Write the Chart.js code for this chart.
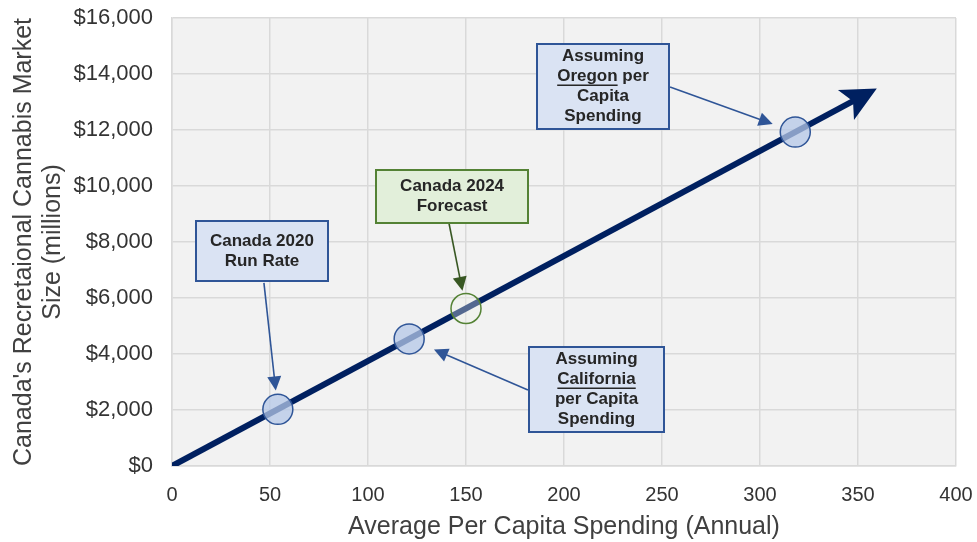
<!DOCTYPE html>
<html>
<head>
<meta charset="utf-8">
<script src="https://cdn.jsdelivr.net/npm/chart.js@4/dist/chart.umd.min.js"></script>
<style>
  html, body { margin: 0; padding: 0; background: #ffffff; }
  #wrap { width: 977px; height: 542px; }
</style>
</head>
<body>
<div id="wrap"><canvas id="c" width="977" height="542"></canvas></div>
<script>
// Market size = per-capita spending x Canadian population (~37.5M)
const trendX = [0, 356];
const trendY = [0, 13350];

// Highlighted scenarios
const pointNames = ['Canada 2020 Run Rate', 'California', 'Canada 2024 Forecast', 'Oregon'];
const pointX = [54, 121, 150, 318];
const pointY = [2025, 4540, 5625, 11925];

// Callout text, one entry per highlighted scenario (_word_ = underlined)
const calloutText = [
  ['Canada 2020', 'Run Rate'],
  ['Assuming', '_California_', 'per Capita', 'Spending'],
  ['Canada 2024', 'Forecast'],
  ['Assuming', '_Oregon_ per', 'Capita', 'Spending']
];

const xTicks = [0, 50, 100, 150, 200, 250, 300, 350, 400];
const yTicks = [0, 2000, 4000, 6000, 8000, 10000, 12000, 14000, 16000];

const xTitle = 'Average Per Capita Spending (Annual)';
const yTitle = ["Canada's Recretaional Cannabis Market", 'Size (millions)'];

const FONT = "'Liberation Sans', Arial, sans-serif";
const BLUE = { fill: '#dae3f3', stroke: '#2f5597', arrow: '#2f5597' };
const GREEN = { fill: '#e2efda', stroke: '#548235', arrow: '#385723' };

// Callout layout: box centre (data units), box size (px), arrow start (data units)
const calloutLayout = [
  { bx: 45.9, by: 7679, w: 132, h: 60, fx: 46.9, fy: 6540, gap: 19, c: BLUE },
  { bx: 216.6, by: 2732, w: 135, h: 85, fx: 181.6, fy: 2714, gap: 27, c: BLUE },
  { bx: 142.9, by: 9625, w: 152, h: 53, fx: 141.3, fy: 8679, gap: 18, c: GREEN },
  { bx: 219.9, by: 13554, w: 132, h: 85, fx: 254.1, fy: 13536, gap: 24, c: BLUE }
];

const plotBackground = {
  id: 'plotBackground',
  beforeDraw(chart) {
    const { ctx, chartArea: a } = chart;
    ctx.save();
    ctx.fillStyle = '#f2f2f2';
    ctx.fillRect(a.left, a.top, a.right - a.left, a.bottom - a.top);
    ctx.restore();
  }
};

// Arrowhead at the end of the trend line
const trendArrow = {
  id: 'trendArrow',
  afterDatasetsDraw(chart) {
    const meta = chart.getDatasetMeta(1);
    const p0 = meta.data[0], p1 = meta.data[meta.data.length - 1];
    const dx = p1.x - p0.x, dy = p1.y - p0.y, len = Math.hypot(dx, dy);
    const ux = dx / len, uy = dy / len, nx = -uy, ny = ux;
    const tx = p1.x + ux * 8, ty = p1.y + uy * 8;
    const L = 35, W = 17, N = 27;
    const { ctx } = chart;
    ctx.save();
    ctx.fillStyle = '#002060';
    ctx.beginPath();
    ctx.moveTo(tx, ty);
    ctx.lineTo(tx - ux * L + nx * W, ty - uy * L + ny * W);
    ctx.lineTo(tx - ux * N, ty - uy * N);
    ctx.lineTo(tx - ux * L - nx * W, ty - uy * L - ny * W);
    ctx.closePath();
    ctx.fill();
    ctx.restore();
  }
};

const callouts = {
  id: 'callouts',
  afterDatasetsDraw(chart) {
    const { ctx, scales: { x, y } } = chart;
    const pts = chart.getDatasetMeta(0).data;
    ctx.save();
    calloutLayout.forEach((c, i) => {
      const pt = pts[i];
      const sx = x.getPixelForValue(c.fx), sy = y.getPixelForValue(c.fy);
      const dx = pt.x - sx, dy = pt.y - sy, len = Math.hypot(dx, dy);
      const ux = dx / len, uy = dy / len, nx = -uy, ny = ux;
      const tx = pt.x - ux * c.gap, ty = pt.y - uy * c.gap;
      const hl = 14, hw = 7;
      ctx.strokeStyle = c.c.arrow;
      ctx.lineWidth = 1.6;
      ctx.beginPath();
      ctx.moveTo(sx, sy);
      ctx.lineTo(tx - ux * (hl - 2), ty - uy * (hl - 2));
      ctx.stroke();
      ctx.fillStyle = c.c.arrow;
      ctx.beginPath();
      ctx.moveTo(tx, ty);
      ctx.lineTo(tx - ux * hl + nx * hw, ty - uy * hl + ny * hw);
      ctx.lineTo(tx - ux * hl - nx * hw, ty - uy * hl - ny * hw);
      ctx.closePath();
      ctx.fill();

      const cx = x.getPixelForValue(c.bx), cy = y.getPixelForValue(c.by);
      const l = Math.round(cx - c.w / 2), t = Math.round(cy - c.h / 2);
      ctx.fillStyle = c.c.fill;
      ctx.fillRect(l, t, c.w, c.h);
      ctx.strokeStyle = c.c.stroke;
      ctx.lineWidth = 2;
      ctx.strokeRect(l, t, c.w, c.h);

      const lines = calloutText[i];
      const lh = 20;
      ctx.font = 'bold 17px ' + FONT;
      ctx.fillStyle = '#262626';
      ctx.textBaseline = 'middle';
      ctx.textAlign = 'left';
      lines.forEach((line, k) => {
        const segs = line.split(/(_[^_]+_)/).filter(s => s.length).map(s =>
          s.startsWith('_') ? { t: s.slice(1, -1), u: true } : { t: s, u: false });
        const total = segs.reduce((s, g) => s + ctx.measureText(g.t).width, 0);
        let xx = cx - total / 2;
        const yy = cy + (k - (lines.length - 1) / 2) * lh;
        segs.forEach(g => {
          const w = ctx.measureText(g.t).width;
          ctx.fillText(g.t, xx, yy);
          if (g.u) {
            ctx.fillRect(xx, yy + 8, w, 1.5);
          }
          xx += w;
        });
      });
    });
    ctx.restore();
  }
};

new Chart(document.getElementById('c'), {
  data: {
    datasets: [
      {
        type: 'scatter',
        label: 'Scenarios',
        order: 1,
        data: pointX.map((v, i) => ({ x: v, y: pointY[i] })),
        pointRadius: 15,
        pointHoverRadius: 15,
        pointBorderWidth: 1.5,
        pointBackgroundColor: ['rgba(180,199,231,0.75)', 'rgba(180,199,231,0.75)', 'rgba(240,244,236,0.35)', 'rgba(180,199,231,0.75)'],
        pointBorderColor: ['#2f5597', '#2f5597', '#548235', '#2f5597']
      },
      {
        type: 'line',
        label: 'Market size',
        order: 2,
        data: trendX.map((v, i) => ({ x: v, y: trendY[i] })),
        borderColor: '#002060',
        borderWidth: 6,
        pointRadius: 0,
        fill: false,
        tension: 0
      }
    ]
  },
  options: {
    responsive: false,
    devicePixelRatio: 1,
    animation: false,
    layout: { autoPadding: false, padding: { left: 0, right: 21, top: 18, bottom: 0 } },
    plugins: { legend: { display: false }, tooltip: { enabled: false } },
    scales: {
      x: {
        type: 'linear',
        min: 0, max: 400,
        afterBuildTicks: s => { s.ticks = xTicks.map(v => ({ value: v })); },
        afterFit: s => { s.height = 76; s.paddingLeft = 0; s.paddingRight = 0; },
        grid: { color: '#d9d9d9', lineWidth: 1.5, drawTicks: false },
        border: { color: '#d9d9d9', width: 1.5 },
        ticks: { color: '#333333', font: { family: FONT, size: 20 }, padding: 17, maxRotation: 0 },
        title: { display: true, text: xTitle, color: '#404040', font: { family: FONT, size: 25 }, padding: { top: 4, bottom: 0 } }
      },
      y: {
        type: 'linear',
        min: 0, max: 16000,
        afterBuildTicks: s => { s.ticks = yTicks.map(v => ({ value: v })); },
        afterFit: s => { s.width = 172; s.paddingTop = 0; s.paddingBottom = 0; },
        grid: { color: '#d9d9d9', lineWidth: 1.5, drawTicks: false },
        border: { color: '#d9d9d9', width: 1.5 },
        ticks: { color: '#333333', font: { family: FONT, size: 22 }, padding: 19,
          callback: v => '$' + Number(v).toLocaleString('en-US') },
        title: { display: true, text: yTitle, color: '#404040', font: { family: FONT, size: 25, lineHeight: 1.15 }, padding: { top: 10, bottom: 0 } }
      }
    }
  },
  plugins: [plotBackground, trendArrow, callouts]
});
</script>
</body>
</html>
